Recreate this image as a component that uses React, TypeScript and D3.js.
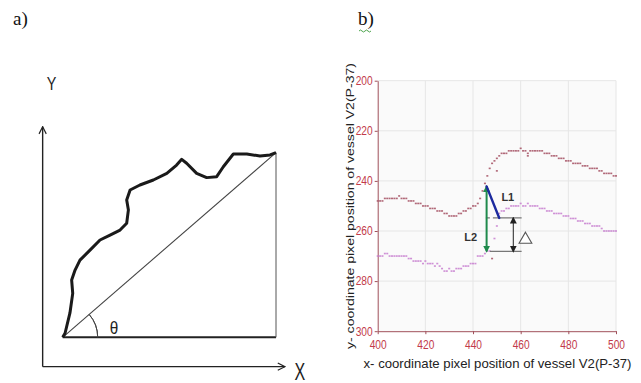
import React, { useRef, useEffect } from "react";
import * as d3 from "d3";

// ---- panel a: sketch of a tortuous vessel (units: % of the chord box) ----
const vesselTrace = [
  [0, 0], [1.1, 2.2], [3.4, 13.2], [4.7, 23.8], [4.2, 31.0], [5.8, 36.4],
  [8.1, 41.8], [12.8, 47.2], [17.5, 52.7], [22.2, 55.4], [26.9, 58.1],
  [30.0, 61.8], [30.8, 69.0], [30.0, 74.4], [31.6, 79.8], [36.2, 82.5],
  [42.5, 85.2], [48.8, 88.8], [53.4, 93.3], [55.8, 96.4], [58.1, 94.3],
  [62.8, 88.8], [67.5, 86.5], [72.2, 87.0], [75.3, 92.4], [80.0, 99.3],
  [86.3, 99.3], [92.5, 98.2], [97.2, 98.8], [100, 100],
];
const chord = [[0, 0], [100, 100]];
const baseLine = [[0, 0], [100, 0]];
const rightLine = [[100, 0], [100, 100]];
const frameOrigin = [-9.4, -15.9];
const frameYTip = [-9.4, 114.1];
const frameXTip = [104.2, -15.9];

// ---- panel b: centreline pixel positions of vessel V2 (P-37) ----
const X_START = 400;
const upperY = [
  248, 248, 248, 247, 247, 247, 247, 247, 247, 246,
  247, 247, 247, 248, 248, 248, 249, 249, 249, 250,
  250, 250, 251, 251, 251, 252, 252, 252, 253, 253,
  254, 254, 254, 254, 253, 253, 252, 252, 251, 251,
  250, 250, 249, 247, 244, 241, 238, 235, 233, 232,
  231, 230, 229, 229, 229, 228, 228, 228, 228, 228,
  227, 228, 228, 229, 228, 228, 228, 228, 228, 228,
  229, 229, 229, 230, 230, 230, 231, 231, 231, 232,
  232, 232, 233, 233, 233, 233, 234, 234, 234, 235,
  235, 235, 235, 236, 236, 237, 237, 237, 237, 238, 238,
];
const lowerY = [
  270, 270, 270, 269, 269, 270, 270, 270, 270, 270,
  270, 270, 270, 271, 271, 272, 272, 272, 272, 273,
  272, 273, 273, 273, 274, 273, 274, 275, 276, 276,
  275, 276, 276, 275, 275, 275, 274, 274, 274, 273,
  273, 273, 270, 270, 270, 269, 268, 268, null, null,
  null, 253, 252, 252, 251, 251, 250, 250, 250, 250,
  249, 250, 250, 249, 250, 250, 250, 250, 251, 251,
  251, 252, 252, 252, 253, 253, 253, 253, 254, 254,
  254, 255, 255, 255, 256, 256, 256, 257, 257, 257,
  258, 258, 258, 258, 259, 260, 260, 260, 260, 260, 260,
];
const upperStray = [[450, 236], [463, 230], [448, 271]];
const lowerStray = [[449, 263], [450, 258]];

const xTicks = [400, 420, 440, 460, 480, 500];
const yTicks = [200, 220, 240, 260, 280, 300];

// annotation (data units)
const apex = [445.7, 242.2];
const l1End = [451.0, 254.8];
const l2End = [445.7, 268.1];
const deltaTop = 254.8;
const deltaBottom = 268.1;
const deltaX = 456.9;
const guideFrom = [445.4, 447.1];
const guideTo = 460.4;
const l1Label = [454.6, 246.4];
const l2Label = [439.0, 262.6];
const deltaLabel = [462.0, 263.4];

export default function App() {
  const svgRef = useRef<SVGSVGElement>(null);

  useEffect(() => {
    drawChart();
  }, []);

  function drawChart() {
    const svg = d3.select(svgRef.current);
    svg.selectAll("*").remove();

    const defs = svg.append("defs");
    const marker = (id, color, open) => {
      const m = defs
        .append("marker")
        .attr("id", id)
        .attr("viewBox", "0 0 10 10")
        .attr("refX", open ? 9 : 8)
        .attr("refY", 5)
        .attr("markerWidth", open ? 9 : 7)
        .attr("markerHeight", open ? 12 : 7)
        .attr("markerUnits", "userSpaceOnUse")
        .attr("orient", "auto-start-reverse");
      if (open) {
        m.append("path")
          .attr("d", "M1,1 L9,5 L1,9")
          .attr("fill", "none")
          .attr("stroke", color)
          .attr("stroke-width", 1.3);
      } else {
        m.append("path").attr("d", "M0,0 L10,5 L0,10 Z").attr("fill", color);
      }
    };
    marker("chev", "#222", true);
    marker("arrG", "#1f8a4c", false);
    marker("arrK", "#222", false);

    svg.append("rect").attr("width", 641).attr("height", 383).attr("fill", "#fff");

    // ---------- panel a ----------
    const ax = d3.scaleLinear().domain([0, 100]).range([62.7, 276]);
    const ay = d3.scaleLinear().domain([0, 100]).range([337.3, 152.7]);
    const aLine = d3.line().x((d) => ax(d[0])).y((d) => ay(d[1]));
    const pa = svg.append("g");

    pa.append("text")
      .attr("x", 13)
      .attr("y", 25)
      .attr("font-family", "Liberation Serif, serif")
      .attr("font-size", 19)
      .attr("fill", "#111")
      .text("a)");

    pa.append("path")
      .attr("d", aLine([frameOrigin, frameYTip]))
      .attr("stroke", "#222")
      .attr("stroke-width", 1.4)
      .attr("marker-end", "url(#chev)");
    pa.append("path")
      .attr("d", aLine([frameOrigin, frameXTip]))
      .attr("stroke", "#222")
      .attr("stroke-width", 1.4)
      .attr("marker-end", "url(#chev)");

    pa.append("path").attr("d", aLine(baseLine)).attr("stroke", "#222").attr("stroke-width", 2);
    pa.append("path").attr("d", aLine(rightLine)).attr("stroke", "#555").attr("stroke-width", 1);
    pa.append("path").attr("d", aLine(chord)).attr("stroke", "#444").attr("stroke-width", 1.1);

    const theta = Math.atan2(ay(0) - ay(100), ax(100) - ax(0));
    pa.append("path")
      .attr("transform", `translate(${ax(0)},${ay(0)})`)
      .attr(
        "d",
        d3.arc()({ innerRadius: 35, outerRadius: 35, startAngle: Math.PI / 2 - theta, endAngle: Math.PI / 2 })
      )
      .attr("fill", "none")
      .attr("stroke", "#444")
      .attr("stroke-width", 1);

    pa.append("path")
      .datum(vesselTrace)
      .attr("d", aLine)
      .attr("fill", "none")
      .attr("stroke", "#1a1a1a")
      .attr("stroke-width", 3)
      .attr("stroke-linejoin", "round");

    const label = (x, y, s, size, sx) =>
      pa
        .append("text")
        .attr("transform", `translate(${x},${y}) scale(${sx},1)`)
        .attr("text-anchor", "middle")
        .attr("font-family", "Liberation Sans, Arial, sans-serif")
        .attr("font-size", size)
        .attr("fill", "#222")
        .text(s);
    label(ax(frameYTip[0]) + 9, 89.5, "Y", 18, 0.8);
    label(ax(frameXTip[0]) + 15, 379.5, "X", 23, 0.7);
    label(ax(24), ay(0) - 3, "θ", 18, 0.85);

    // ---------- panel b ----------
    const x = d3.scaleLinear().domain([400, 500]).range([377.7, 616]);
    const y = d3.scaleLinear().domain([200, 300]).range([80.7, 331.2]);
    const pb = svg.append("g");

    pb.append("text")
      .attr("x", 358)
      .attr("y", 25)
      .attr("font-family", "Liberation Serif, serif")
      .attr("font-size", 19)
      .attr("fill", "#111")
      .text("b)");
    pb.append("path")
      .attr("d", "M359,31 q1.5,-2 3,0 t3,0 t3,0 t3,0")
      .attr("fill", "none")
      .attr("stroke", "#3a9a3a")
      .attr("stroke-width", 0.9);

    pb.append("rect")
      .attr("x", x(400))
      .attr("y", y(200))
      .attr("width", x(500) - x(400))
      .attr("height", y(300) - y(200))
      .attr("fill", "#fafafa");

    pb.selectAll(".gx")
      .data(xTicks.slice(1))
      .join("line")
      .attr("x1", (d) => x(d))
      .attr("x2", (d) => x(d))
      .attr("y1", y(200))
      .attr("y2", y(300))
      .attr("stroke", "#e6e6e6");
    pb.selectAll(".gy")
      .data(yTicks.slice(0, -1))
      .join("line")
      .attr("x1", x(400))
      .attr("x2", x(500))
      .attr("y1", (d) => y(d))
      .attr("y2", (d) => y(d))
      .attr("stroke", "#e6e6e6");

    const axisColor = "#a0505a";
    const tickColor = "#c23a4a";
    const styleAxis = (g) => {
      g.select(".domain").attr("stroke", axisColor);
      g.selectAll(".tick line").attr("stroke", axisColor);
      g.selectAll(".tick text")
        .attr("fill", tickColor)
        .attr("font-family", "Liberation Sans, Arial, sans-serif")
        .attr("font-size", 12)
        .attr("textLength", 17)
        .attr("lengthAdjust", "spacingAndGlyphs");
    };
    pb.append("g")
      .attr("transform", `translate(${x(400)},0)`)
      .call(d3.axisLeft(y).tickValues(yTicks).tickSize(3).tickPadding(2).tickSizeOuter(0))
      .call(styleAxis);
    pb.append("g")
      .attr("transform", `translate(0,${y(300)})`)
      .call(d3.axisBottom(x).tickValues(xTicks).tickSize(3).tickPadding(6).tickSizeOuter(0))
      .call(styleAxis);

    const series = (vals, stray, color) => {
      const pts = vals
        .map((v, i) => (v == null ? null : [X_START + i, v]))
        .filter(Boolean)
        .concat(stray);
      pb.append("g")
        .selectAll("rect")
        .data(pts)
        .join("rect")
        .attr("x", (d) => x(d[0]) - 1)
        .attr("y", (d) => y(d[1]) - 0.8)
        .attr("width", 2)
        .attr("height", 1.6)
        .attr("fill", color)
        .attr("opacity", 0.85);
    };
    series(upperY, upperStray, "#a34d60");
    series(lowerY, lowerStray, "#c77ccf");

    const bLine = d3.line().x((d) => x(d[0])).y((d) => y(d[1]));

    // guide lines for delta
    pb.append("path")
      .attr("d", bLine([[guideFrom[0], deltaTop], [guideTo, deltaTop]]))
      .attr("stroke", "#777")
      .attr("stroke-width", 1.2)
      .attr("stroke-dasharray", "4 3 80");
    pb.append("path")
      .attr("d", bLine([[guideFrom[1], deltaBottom], [guideTo, deltaBottom]]))
      .attr("stroke", "#777")
      .attr("stroke-width", 1.2);
    pb.append("path")
      .attr("d", bLine([[deltaX, deltaTop], [deltaX, deltaBottom]]))
      .attr("stroke", "#222")
      .attr("stroke-width", 1)
      .attr("marker-start", "url(#arrK)")
      .attr("marker-end", "url(#arrK)");

    pb.append("path")
      .attr("d", bLine([apex, l2End]))
      .attr("stroke", "#1f8a4c")
      .attr("stroke-width", 2)
      .attr("marker-start", "url(#arrG)")
      .attr("marker-end", "url(#arrG)");
    pb.append("path")
      .attr("d", bLine([apex, l1End]))
      .attr("stroke", "#1c2a9e")
      .attr("stroke-width", 2.4)
      .attr("stroke-linecap", "round");

    const bText = (p, s) =>
      pb
        .append("text")
        .attr("x", x(p[0]))
        .attr("y", y(p[1]))
        .attr("text-anchor", "middle")
        .attr("dy", "0.35em")
        .attr("font-family", "Liberation Sans, Arial, sans-serif")
        .attr("font-weight", "bold")
        .attr("font-size", 11)
        .attr("fill", "#333")
        .text(s);
    bText(l1Label, "L1");
    bText(l2Label, "L2");

    pb.append("path")
      .attr("transform", `translate(${x(deltaLabel[0])},${y(deltaLabel[1])})`)
      .attr("d", d3.symbol(d3.symbolTriangle, 70)())
      .attr("fill", "#fff")
      .attr("stroke", "#555")
      .attr("stroke-width", 1.1);

    // axis titles
    pb.append("text")
      .attr("x", 497.5)
      .attr("y", 367.5)
      .attr("text-anchor", "middle")
      .attr("font-family", "Liberation Sans, Arial, sans-serif")
      .attr("font-size", 13.5)
      .attr("textLength", 268)
      .attr("lengthAdjust", "spacingAndGlyphs")
      .attr("fill", "#222")
      .text("x- coordinate pixel position of vessel V2(P-37)");
    pb.append("text")
      .attr("transform", "translate(353.5,206) scale(0.8,1) rotate(-90)")
      .attr("text-anchor", "middle")
      .attr("font-family", "Liberation Sans, Arial, sans-serif")
      .attr("font-size", 14)
      .attr("textLength", 286)
      .attr("lengthAdjust", "spacingAndGlyphs")
      .attr("fill", "#222")
      .text("y- coordinate pixel position of vessel V2(P-37)");
  }

  return (
    <svg
      ref={svgRef}
      width={641}
      height={383}
      style={{ position: "absolute", left: 0, top: 0 }}
    />
  );
}
